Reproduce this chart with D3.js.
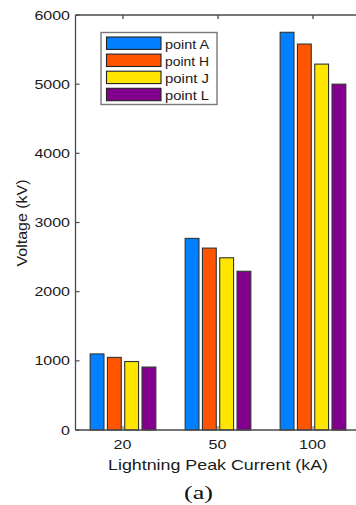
<!DOCTYPE html>
<html>
<head>
<meta charset="utf-8">
<script src="https://cdn.jsdelivr.net/npm/d3@7"></script>
<style>
html,body{margin:0;padding:0;background:#fff;overflow:hidden;}
svg{display:block;}
</style>
</head>
<body>
<svg id="chart" width="356" height="505"></svg>
<script>
const categories = ["20", "50", "100"];
const seriesNames = ["point A", "point H", "point J", "point L"];
const seriesColors = ["#0080FF", "#FF5500", "#FFE600", "#83008F"];
const pointA = [1100, 2770, 5750];
const pointH = [1050, 2630, 5580];
const pointJ = [990, 2490, 5290];
const pointL = [910, 2295, 5000];
const yTicks = [0, 1000, 2000, 3000, 4000, 5000, 6000];
const seriesValues = [pointA, pointH, pointJ, pointL];

const svg = d3.select("#chart");
const L = 75.5, R = 360.5, T = 15, B = 430;
const axisColor = "#4a4a4a";
const textColor = "#1a1a1a";

const x0 = d3.scaleBand().domain(categories).range([L, R]).padding(0);
const groupW = x0.bandwidth() * 0.728;
const x1 = d3.scaleBand().domain(seriesNames).range([0, groupW]).paddingInner(0.2).paddingOuter(0.1);
const y = d3.scaleLinear().domain([0, 6000]).range([B, T]);

// bottom inner ticks (behind bars)
svg.append("g").selectAll("line").data(categories).join("line")
  .attr("x1", d => x0(d) + x0.bandwidth()/2).attr("x2", d => x0(d) + x0.bandwidth()/2)
  .attr("y1", B).attr("y2", B - 4)
  .attr("stroke", "#888").attr("stroke-width", 1.3);

// bars
const barG = svg.append("g");
seriesNames.forEach((s, si) => {
  barG.append("g").selectAll("rect").data(categories).join("rect")
    .attr("x", (c) => x0(c) + x0.bandwidth()/2 - groupW/2 + x1(s))
    .attr("y", (c, ci) => y(seriesValues[si][ci]))
    .attr("width", x1.bandwidth())
    .attr("height", (c, ci) => B - y(seriesValues[si][ci]))
    .attr("fill", seriesColors[si])
    .attr("stroke", "#333").attr("stroke-width", 1.1);
});

// axes lines
svg.append("line").attr("x1", L).attr("x2", L).attr("y1", T).attr("y2", B)
  .attr("stroke", axisColor).attr("stroke-width", 1.3);
svg.append("line").attr("x1", L).attr("x2", R).attr("y1", T).attr("y2", T)
  .attr("stroke", axisColor).attr("stroke-width", 1.3);
svg.append("line").attr("x1", L).attr("x2", R).attr("y1", B).attr("y2", B)
  .attr("stroke", axisColor).attr("stroke-width", 1.3);

// left ticks
svg.append("g").selectAll("line").data(yTicks).join("line")
  .attr("x1", L).attr("x2", L + 4).attr("y1", d => y(d)).attr("y2", d => y(d))
  .attr("stroke", axisColor).attr("stroke-width", 1.2);
// top ticks
svg.append("g").selectAll("line").data(categories).join("line")
  .attr("x1", d => x0(d) + x0.bandwidth()/2).attr("x2", d => x0(d) + x0.bandwidth()/2)
  .attr("y1", T).attr("y2", T + 4)
  .attr("stroke", axisColor).attr("stroke-width", 1.3);

const font = "'Liberation Sans', Arial, sans-serif";
// y tick labels
svg.append("g").selectAll("text").data(yTicks).join("text")
  .attr("transform", d => `translate(70,${y(d) + 4.6}) scale(1.27,1)`)
  .attr("text-anchor", "end")
  .attr("font-family", font).attr("font-size", 12.6).attr("fill", textColor)
  .text(d => d);
// x tick labels
svg.append("g").selectAll("text").data(categories).join("text")
  .attr("transform", d => `translate(${x0(d) + x0.bandwidth()/2 - 0.5},449) scale(1.22,1)`)
  .attr("text-anchor", "middle")
  .attr("font-family", font).attr("font-size", 13.2).attr("fill", textColor)
  .text(d => d);
// x label
svg.append("text").attr("x", 218).attr("y", 470).attr("text-anchor", "middle")
  .attr("font-family", font).attr("font-size", 14.6).attr("fill", textColor)
  .attr("textLength", 220).attr("lengthAdjust", "spacingAndGlyphs")
  .text("Lightning Peak Current (kA)");
// y label
svg.append("text").attr("transform", "translate(27,223) rotate(-90)").attr("text-anchor", "middle")
  .attr("font-family", font).attr("font-size", 15).attr("fill", textColor)
  .attr("textLength", 87).attr("lengthAdjust", "spacingAndGlyphs")
  .text("Voltage (kV)");
// (a)
svg.append("text").attr("x", 198.5).attr("y", 499).attr("text-anchor", "middle")
  .attr("font-family", "'Liberation Serif', 'Times New Roman', serif").attr("font-size", 18).attr("fill", "#111")
  .attr("textLength", 29).attr("lengthAdjust", "spacingAndGlyphs")
  .text("(a)");

// legend
const lg = svg.append("g");
lg.append("rect").attr("x", 101).attr("y", 32.5).attr("width", 116).attr("height", 72)
  .attr("fill", "#fff").attr("stroke", "#7a7a7a").attr("stroke-width", 1.4);
seriesNames.forEach((s, i) => {
  const ry = 37 + i * 17.1;
  lg.append("rect").attr("x", 106.5).attr("y", ry).attr("width", 54.5).attr("height", 12.4)
    .attr("fill", seriesColors[i]).attr("stroke", "#222").attr("stroke-width", 1.1);
  lg.append("text").attr("x", 165).attr("y", ry + 11.5)
    .attr("font-family", font).attr("font-size", 13.4).attr("fill", "#1a1a1a")
    .attr("textLength", 44).attr("lengthAdjust", "spacingAndGlyphs")
    .text(s);
});
</script>
</body>
</html>
